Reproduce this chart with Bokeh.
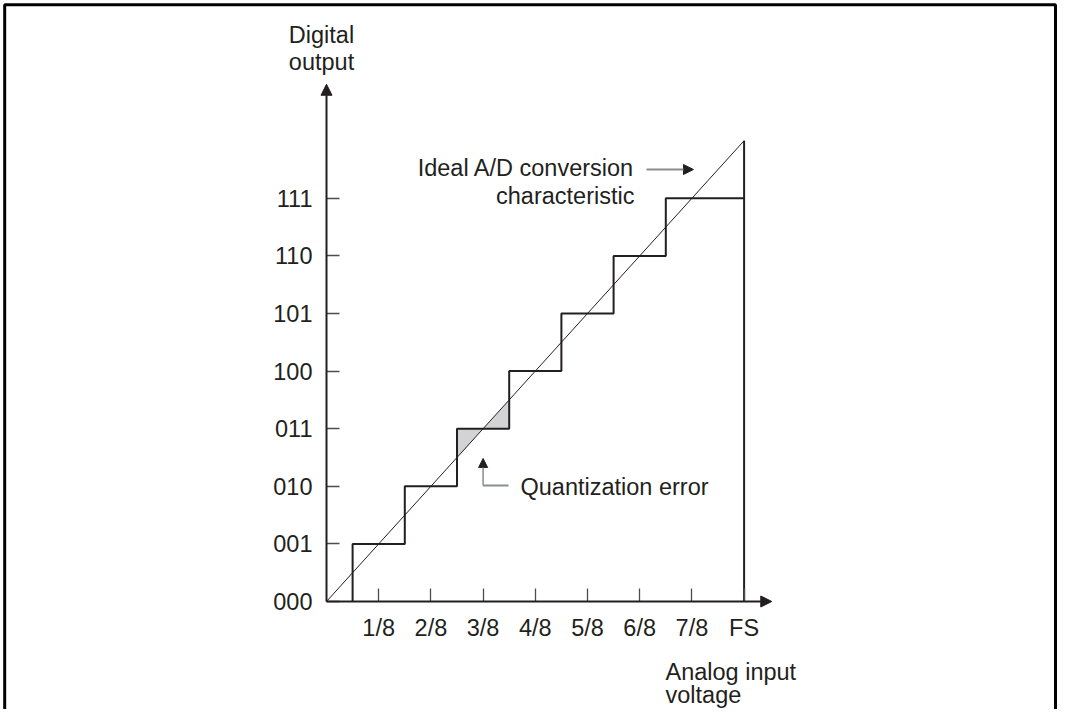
from bokeh.plotting import figure
from bokeh.models import Range1d, FixedTicker, Label, Arrow, NormalHead
from bokeh.embed import file_html
from bokeh.resources import INLINE

# ---- data ----
code_levels = [0, 1, 2, 3, 4, 5, 6, 7]
code_labels = ["000", "001", "010", "011", "100", "101", "110", "111"]
x_ticks = [1, 2, 3, 4, 5, 6, 7, 8]            # in eighths of full scale
x_labels = ["1/8", "2/8", "3/8", "4/8", "5/8", "6/8", "7/8", "FS"]
step_edges = [0.5, 1.5, 2.5, 3.5, 4.5, 5.5, 6.5]   # transition points (eighths)
step_codes = [1, 2, 3, 4, 5, 6, 7]
full_scale = 8
ideal_x = [0, 8]
ideal_y = [0, 8]
error_code = 3   # step whose quantization error is shaded

INK = "#231f20"
GRAY = "#8a8c8e"
FONT = "Liberation Sans"
FS_ = "23.5px"

W, H = 1057, 709
px_x, px_y = 52.2, 57.6
ox, oy = 326, 601   # canvas position of data origin
x0 = -ox / px_x
x1 = x0 + W / px_x
y1 = oy / px_y
y0 = y1 - H / px_y

p = figure(width=W, height=H, x_range=Range1d(x0, x1), y_range=Range1d(y0, y1),
           output_backend="svg", toolbar_location=None, min_border=0)
p.outline_line_color = None
p.xgrid.visible = False
p.ygrid.visible = False
p.background_fill_color = "white"
p.border_fill_color = "white"

for ax in (p.xaxis[0], p.yaxis[0]):
    ax.fixed_location = 0
    ax.axis_line_color = None
    ax.major_tick_in = 13
    ax.major_tick_out = 0
    ax.major_tick_line_color = "#4d4d4f"
    ax.major_tick_line_width = 1.3
    ax.minor_tick_line_color = None
    ax.major_label_text_font = FONT
    ax.major_label_text_font_size = FS_
    ax.major_label_text_color = INK

p.xaxis.ticker = FixedTicker(ticks=x_ticks)
p.xaxis.major_label_overrides = dict(zip(x_ticks, x_labels))
p.xaxis.major_label_standoff = 13
p.yaxis.ticker = FixedTicker(ticks=code_levels)
p.yaxis.major_label_standoff = 14
p.yaxis.major_label_overrides = dict(zip(code_levels, code_labels))

# axis lines with arrow heads
p.add_layout(Arrow(x_start=0, y_start=0, x_end=0, y_end=8.98, line_color=INK, line_width=2,
                   end=NormalHead(size=11, fill_color=INK, line_color=INK)))
p.add_layout(Arrow(x_start=0, y_start=0, x_end=8.53, y_end=0, line_color=INK, line_width=2,
                   end=NormalHead(size=11, fill_color=INK, line_color=INK)))

# shaded quantization error triangles
k = error_code
e_lo = step_edges[k - 1]
e_hi = step_edges[k]
tri_xs = [[e_lo, e_lo, k], [k, e_hi, e_hi]]
tri_ys = [[e_lo, k, k], [k, k, e_hi]]
p.patches(tri_xs, tri_ys, fill_color="#d1d3d4", line_color=None)

# staircase
sx, sy = [], []
prev = 0
for e, c in zip(step_edges, step_codes):
    sx += [e, e]
    sy += [prev, c]
    prev = c
sx.append(full_scale)
sy.append(prev)
p.line(sx, sy, line_color=INK, line_width=2)
p.line([full_scale, full_scale], [0, ideal_y[-1]], line_color=INK, line_width=2)

# ideal characteristic
p.line(ideal_x, ideal_y, line_color=INK, line_width=1)

DY = 7 / px_y   # baseline correction

def lab(x, y, t, align="left"):
    p.add_layout(Label(x=x, y=y + DY, text=t, text_font=FONT, text_font_size=FS_,
                       text_color=INK, text_align=align, text_baseline="alphabetic"))

lab(-0.096, 9.705, "Digital", "center")
lab(-0.096, 9.253, "output", "center")
lab(6.494, -1.34, "Analog input")
lab(6.494, -1.74, "voltage")
lab(5.90, 7.396, "Ideal A/D conversion", "right")
lab(5.90, 6.927, "characteristic", "right")
lab(3.716, 1.875, "Quantization error")

p.add_layout(Arrow(x_start=6.13, y_start=7.5, x_end=7.03, y_end=7.5, line_color=GRAY, line_width=2,
                   end=NormalHead(size=10, fill_color=INK, line_color=INK)))
p.line([3.487, 3.0], [2.014, 2.014], line_color=GRAY, line_width=2)
p.add_layout(Arrow(x_start=3.0, y_start=2.014, x_end=3.0, y_end=2.483, line_color=GRAY, line_width=1.5,
                   end=NormalHead(size=9, fill_color=INK, line_color=INK)))

# outer frame (left, top, right)
fx0 = x0 + 4.2 / px_x
fx1 = x1 - 2.0 / px_x
fy1 = y1 - 4.3 / px_y
p.line([fx0, fx0, fx1, fx1], [y0 - 1, fy1, fy1, y0 - 1], line_color="black", line_width=3)

open("out.html", "w").write(file_html(p, INLINE))
